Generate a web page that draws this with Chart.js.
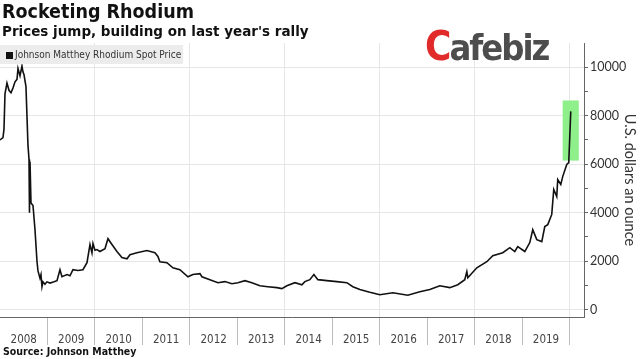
<!DOCTYPE html>
<html><head><meta charset="utf-8">
<script src="https://cdn.jsdelivr.net/npm/chart.js@4"></script>
<style>
html,body{margin:0;padding:0;background:#fff;}
#wrap{position:relative;width:640px;height:359px;overflow:hidden;}
canvas{position:absolute;left:0;top:0;}
.t{position:absolute;white-space:nowrap;color:#111;}
#title{left:2px;top:1px;font:bold 19.5px "DejaVu Sans Condensed","DejaVu Sans";line-height:22px;}
#sub{left:2px;top:23px;font:bold 13.5px "DejaVu Sans";line-height:16px;}
#src{left:3px;top:345px;font:bold 10.5px "DejaVu Sans Condensed","DejaVu Sans";line-height:13px;}
#leg{left:0;top:45px;width:183px;height:19px;background:#ececec;font:10px "DejaVu Sans Condensed","DejaVu Sans";color:#333;line-height:19px;}
#leg i{display:inline-block;width:7px;height:7px;background:#111;margin:0 2px 0 6px;vertical-align:-0.5px;}
#logo{left:425px;top:24px;font:bold 36px "DejaVu Sans Condensed","DejaVu Sans";letter-spacing:-2px;color:#4d4d4d;line-height:44px;}
#logo b{color:#e12a2a;font-size:40px;}
</style></head>
<body><div id="wrap">
<canvas id="c" width="640" height="359"></canvas>
<div class="t" id="title">Rocketing Rhodium</div>
<div class="t" id="sub">Prices jump, building on last year's rally</div>
<div class="t" id="leg"><i></i>Johnson Matthey Rhodium Spot Price</div>
<div class="t" id="logo"><b>C</b>afebiz</div>
<div class="t" id="src">Source: Johnson Matthey</div>
</div>
<script>
// decimal-year positions of the readings
const dates = [2008.000,2008.063,2008.084,2008.105,2008.147,2008.189,2008.232,2008.274,2008.316,2008.358,2008.379,2008.421,2008.463,2008.484,2008.505,2008.547,2008.589,2008.611,2008.621,2008.632,2008.653,2008.695,2008.737,2008.779,2008.800,2008.842,2008.863,2008.884,2008.905,2008.947,2008.989,2009.053,2009.137,2009.200,2009.263,2009.305,2009.411,2009.474,2009.537,2009.642,2009.747,2009.832,2009.895,2009.937,2009.958,2010.000,2010.042,2010.105,2010.211,2010.274,2010.358,2010.463,2010.568,2010.674,2010.737,2010.884,2011.095,2011.263,2011.326,2011.368,2011.516,2011.642,2011.789,2011.958,2012.063,2012.211,2012.253,2012.421,2012.589,2012.737,2012.884,2013.011,2013.158,2013.305,2013.474,2013.642,2013.832,2013.937,2014.042,2014.211,2014.358,2014.421,2014.526,2014.611,2014.695,2014.884,2015.095,2015.305,2015.432,2015.579,2015.789,2015.958,2016.000,2016.274,2016.589,2016.842,2017.053,2017.263,2017.474,2017.642,2017.789,2017.832,2017.853,2018.042,2018.253,2018.379,2018.589,2018.737,2018.842,2018.905,2019.053,2019.158,2019.221,2019.305,2019.411,2019.474,2019.537,2019.621,2019.663,2019.726,2019.747,2019.811,2019.853,2019.937,2019.979,2020.021];
// Johnson Matthey rhodium spot price, USD per ounce
const prices = [7000,7100,7450,8900,9350,9050,8950,9150,9400,9500,9950,9650,10050,9800,9700,9200,6800,6200,4000,6100,4400,4300,3300,2000,1600,1300,1450,950,1150,1050,1150,1100,1150,1200,1650,1360,1450,1400,1650,1620,1650,1940,2690,2350,2730,2450,2480,2400,2520,2930,2690,2400,2150,2100,2270,2350,2440,2350,2200,1980,1940,1730,1650,1360,1450,1490,1360,1240,1115,1160,1070,1115,1200,1115,990,950,910,870,990,1115,1030,1160,1240,1450,1240,1200,1160,1115,950,830,720,640,620,700,600,740,830,990,910,1030,1240,1570,1320,1730,1980,2230,2350,2560,2400,2600,2400,2770,3300,2890,2810,3430,3510,3930,4960,4670,5370,5170,5500,5990,6070,8180];
const yearLabels = ['2008','2009','2010','2011','2012','2013','2014','2015','2016','2017','2018','2019'];
const yTickValues = [0,1000,2000,3000,4000,5000,6000,7000,8000,9000,10000];
const highlightDates = [2019.85, 2020.19];
const highlightPrices = [6150, 8630];

const points = dates.map((d,i)=>({x:d,y:prices[i]}));

const highlight = {
  id:'highlight',
  beforeDatasetsDraw(chart){
    const {ctx, scales:{x,y}} = chart;
    const x0 = x.getPixelForValue(highlightDates[0]), x1 = x.getPixelForValue(highlightDates[1]);
    const y0 = y.getPixelForValue(highlightPrices[1]), y1 = y.getPixelForValue(highlightPrices[0]);
    ctx.save(); ctx.fillStyle='#8ff08b'; ctx.fillRect(x0,y0,x1-x0,y1-y0); ctx.restore();
  }
};

new Chart(document.getElementById('c'),{
  type:'line',
  data:{datasets:[{data:points,borderColor:'#111',borderWidth:1.6,pointRadius:0,tension:0,fill:false}]},
  options:{
    responsive:false,animation:false,
    layout:{padding:{top:43,left:0,right:0,bottom:0}},
    plugins:{legend:{display:false},tooltip:{enabled:false}},
    scales:{
      x:{type:'linear',min:2008,max:2020.3,
        afterBuildTicks(s){const t=[];for(let v=2008;v<=2020.001;v+=0.5)t.push({value:Math.round(v*2)/2});s.ticks=t;},
        afterFit(s){s.height=42;},
        ticks:{autoSkip:false,maxRotation:0,padding:-12,color:'#444',
          font:{family:'"DejaVu Sans Condensed","DejaVu Sans"',size:11.5},
          callback(v){const i=Math.floor(v)-2008;return (v%1!==0 && i<yearLabels.length)?yearLabels[i]:'';}},
        grid:{drawOnChartArea:true,tickLength:28,lineWidth:1,
          color(c){const v=c.tick&&c.tick.value;return (v%2===0 && v>2008)?'#e6e6e6':'rgba(0,0,0,0)';},
          tickColor(c){const v=c.tick&&c.tick.value;return (v%1===0 && v>2008)?'#bdbdbd':'rgba(0,0,0,0)';}},
        border:{display:true,color:'#666',width:1}
      },
      y:{type:'linear',position:'right',min:-300,max:11000,
        afterBuildTicks(s){s.ticks=yTickValues.map(v=>({value:v}));},
        afterFit(s){s.width=56;},
        ticks:{padding:2,color:'#333',font:{family:'Lato',size:12.5},
          callback(v){return v%2000===0?String(v):'';}},
        grid:{tickLength:4,lineWidth:1,
          color(c){return c.tick&&c.tick.value%2000===0?'#e6e6e6':'rgba(0,0,0,0)';},
          tickColor:'#666'},
        border:{display:true,color:'#666',width:1},
        title:{display:true,text:'U.S. dollars an ounce',color:'#333',font:{family:'Lato',size:14.5},padding:{top:2,bottom:2}}
      }
    }
  },
  plugins:[highlight]
});
</script>
</body></html>
